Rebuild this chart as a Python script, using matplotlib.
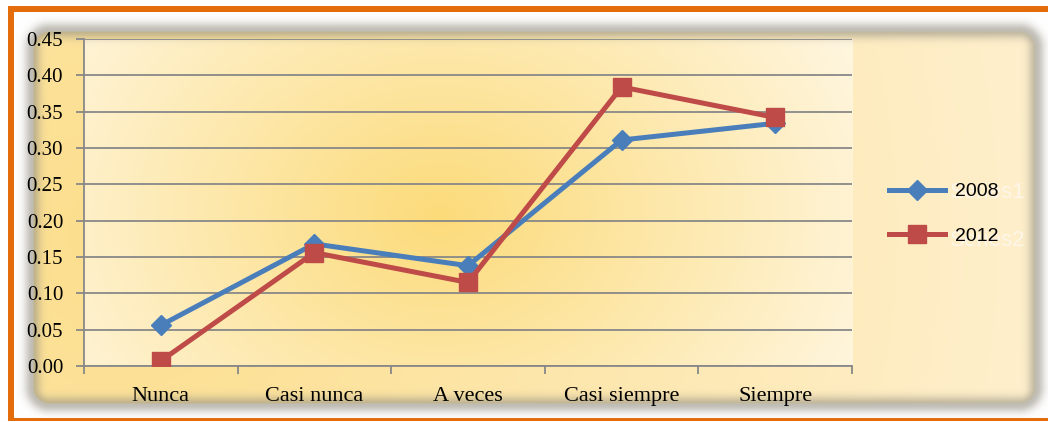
import numpy as np
import matplotlib.pyplot as plt
from matplotlib.lines import Line2D

categories = ["Nunca", "Casi nunca", "A veces", "Casi siempre", "Siempre"]
series_names = ["2008", "2012"]
values_2008 = [0.056, 0.168, 0.138, 0.311, 0.334]
values_2012 = [0.007, 0.156, 0.115, 0.384, 0.342]
ytick_values = [0.00, 0.05, 0.10, 0.15, 0.20, 0.25, 0.30, 0.35, 0.40, 0.45]
ghost_labels = ["Series1", "Series2"]

W, H, DPI = 1048, 422, 100
BLUE = "#4A7EBB"
RED = "#BE4B48"

# plot area in pixels (left, top, right, bottom)
PX0, PY0, PX1, PY1 = 84, 39, 852, 366


def rounded_rect_sdf(xx, yy, x0, y0, x1, y1, r):
    cx, cy = (x0 + x1) / 2, (y0 + y1) / 2
    hx, hy = (x1 - x0) / 2 - r, (y1 - y0) / 2 - r
    qx = np.abs(xx - cx) - hx
    qy = np.abs(yy - cy) - hy
    out = np.hypot(np.maximum(qx, 0), np.maximum(qy, 0))
    ins = np.minimum(np.maximum(qx, qy), 0)
    return out + ins - r


def radial(xx, yy, cx, cy, rad, c_in, c_out, sx=1.0, sy=1.0):
    d = np.clip(np.hypot((xx - cx) * sx, (yy - cy) * sy) / rad, 0, 1)[..., None]
    c_in = np.array(c_in) / 255.0
    c_out = np.array(c_out) / 255.0
    return c_in * (1 - d) + c_out * d


def build_background():
    yy, xx = np.mgrid[0:H, 0:W].astype(float)
    img = np.ones((H, W, 3))

    d = rounded_rect_sdf(xx, yy, 33, 31, 1035, 403, 16)
    panel = radial(xx, yy, 120, 230, 950, (252, 222, 140), (255, 240, 206))
    t = np.clip(0.5 - d / 2.0, 0, 1)[..., None]
    img = img * (1 - t) + panel * t

    # plot area gradient
    inside = (xx >= PX0) & (xx <= PX1) & (yy >= PY0) & (yy <= PY1)
    plot_grad = radial(xx, yy, 440, 215, 470, (252, 219, 122), (255, 246, 224), sy=1.3)
    img[inside] = plot_grad[inside]

    # soft gray shadow around panel edge
    s = (0.6 * np.exp(-((d - 1.0) / 8.0) ** 2))[..., None]
    gray = np.array([150, 146, 132]) / 255.0
    img = img * (1 - s) + gray * s

    # orange frame
    org = np.array([0xE4, 0x6C, 0x0A]) / 255.0
    img[6:12, 8:] = org
    img[6:421, 8:14] = org
    img[418:421, 8:] = org
    return img


fig = plt.figure(figsize=(W / DPI, H / DPI), dpi=DPI)
bg = fig.add_axes([0, 0, 1, 1])
bg.imshow(build_background(), aspect="auto", extent=(0, W, H, 0), interpolation="bilinear")
bg.set_xlim(0, W)
bg.set_ylim(H, 0)
bg.axis("off")

ax = fig.add_axes([PX0 / W, 1 - PY1 / H, (PX1 - PX0) / W, (PY1 - PY0) / H])
ax.set_facecolor("none")

x = np.arange(len(categories))
ax.plot(x, values_2008, color=BLUE, lw=3.6, marker="D", ms=10, mec=BLUE, zorder=3, label=series_names[0])
ax.plot(x, values_2012, color=RED, lw=3.6, marker="s", ms=13, mec=RED, zorder=4, label=series_names[1])

ax.set_xlim(-0.5, len(categories) - 0.5)
ax.set_ylim(0, 0.45)
ax.set_yticks(ytick_values)
ax.set_yticklabels([f"{v:.2f}" for v in ytick_values], family="Liberation Serif", fontsize=15)
ax.yaxis.grid(True, color="#888888", lw=1.3)
ax.set_axisbelow(True)

ax.set_xticks(x)
ax.set_xticklabels(categories, family="Liberation Serif", fontsize=16)
ax.set_xticks(np.arange(len(categories) + 1) - 0.5, minor=True)
ax.tick_params(axis="x", which="major", length=0, pad=15)
ax.tick_params(axis="x", which="minor", length=6, color="#888888", width=1.3)
ax.tick_params(axis="y", length=6, color="#888888", width=1.3, pad=9)

for side in ["top", "right"]:
    ax.spines[side].set_visible(False)
for side in ["left", "bottom"]:
    ax.spines[side].set_color("#888888")
    ax.spines[side].set_linewidth(1.3)

# faint leftover text behind legend
for i, name in enumerate(ghost_labels):
    fig.text(950 / W, 1 - (193 + 48 * i) / H, name, family="Liberation Sans", fontsize=16,
             color="#FFF6EA", va="center", ha="left", zorder=1)

handles = [
    Line2D([], [], color=BLUE, lw=3.6, marker="D", ms=10),
    Line2D([], [], color=RED, lw=3.6, marker="s", ms=13),
]
fig.legend(handles, series_names, loc="center left", bbox_to_anchor=(889 / W, 1 - 214 / H),
           frameon=False, prop={"family": "Liberation Sans", "size": 14},
           handlelength=2.9, handletextpad=0.5, labelspacing=1.4, borderpad=0, borderaxespad=0)

fig.savefig("out.png", dpi=DPI)
